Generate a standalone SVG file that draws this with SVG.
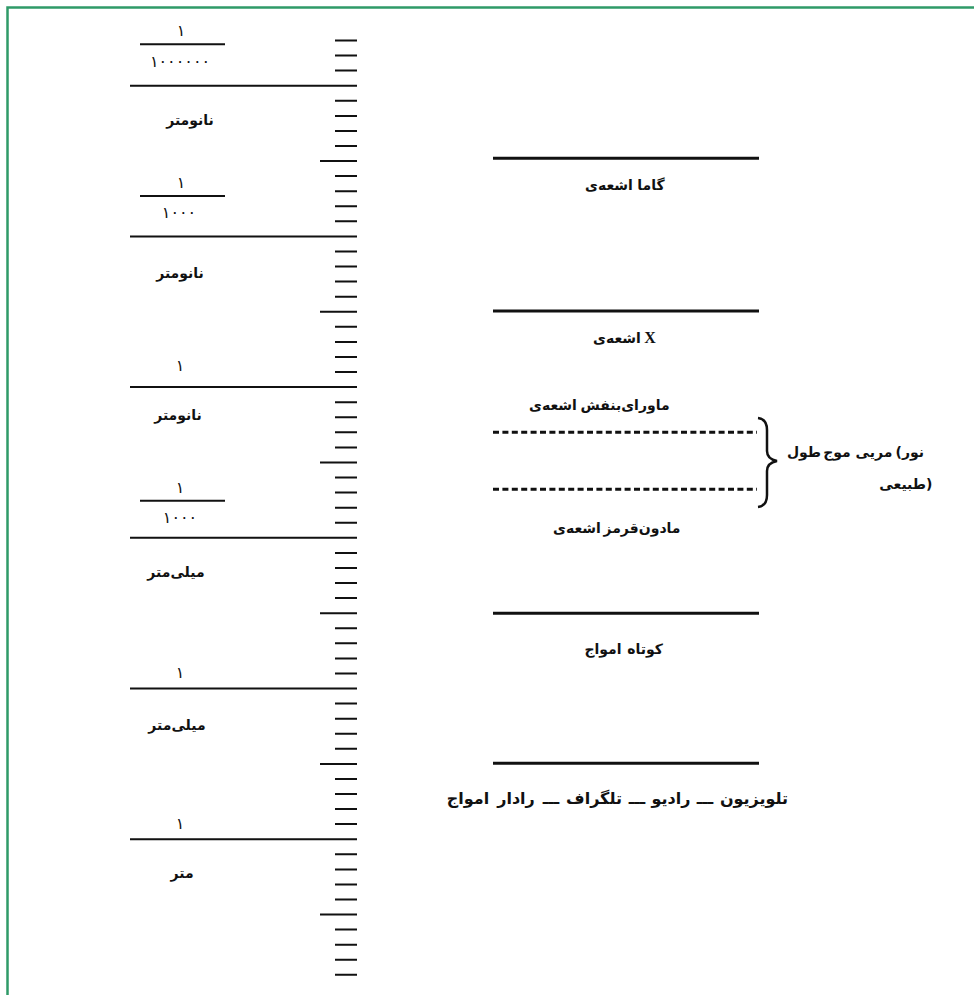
<svg xmlns="http://www.w3.org/2000/svg" width="974" height="995" viewBox="0 0 974 995">
<style>
.t{font-family:"DejaVu Sans","Noto Sans",sans-serif;font-size:14px;font-weight:bold;fill:#111;text-anchor:middle}
.r{font-size:16px}
.x{font-family:"Liberation Serif",serif;font-size:16px;font-weight:bold;fill:#111;text-anchor:middle}
.n{font-family:"DejaVu Sans","Noto Sans",sans-serif;font-size:16px;fill:#111;text-anchor:middle}
.tick{stroke:#111;stroke-width:2;fill:none}
.band{stroke:#111;stroke-width:3;fill:none}
.dot{stroke:#111;stroke-width:3;fill:none;stroke-dasharray:6 3.4}
</style>
<rect x="0" y="0" width="974" height="995" fill="#fff"/>
<rect x="7.5" y="7.5" width="980" height="1000" fill="none" stroke="#2f9a68" stroke-width="2.5"/>
<g id="scale">
<path class="tick" d="M335 40.5h22M335 55.6h22M335 70.6h22M335 100.8h22M335 115.9h22M335 130.9h22M335 146h22M335 176.1h22M335 191.2h22M335 206.3h22M335 221.3h22M335 251.5h22M335 266.6h22M335 281.6h22M335 296.7h22M335 326.8h22M335 341.9h22M335 357h22M335 372h22M335 402.2h22M335 417.3h22M335 432.3h22M335 447.4h22M335 477.5h22M335 492.6h22M335 507.7h22M335 522.7h22M335 552.9h22M335 568h22M335 583h22M335 598.1h22M335 628.2h22M335 643.3h22M335 658.4h22M335 673.4h22M335 703.6h22M335 718.7h22M335 733.7h22M335 748.8h22M335 778.9h22M335 794h22M335 809.1h22M335 824.1h22M335 854.3h22M335 869.4h22M335 884.4h22M335 899.5h22M335 929.6h22M335 944.7h22M335 959.8h22M335 974.8h22"/>
<path class="tick" d="M320 161.1h37M320 311.8h37M320 462.5h37M320 613.2h37M320 763.9h37M320 914.6h37"/>
<path class="tick" d="M130 85.7H357M130 236.4H357M130 387.1H357M130 537.8H357M130 688.5H357M130 839.2H357"/>
</g>
<g id="label-1e-6">
<text class="n" x="181" y="36">۱</text>
<path class="tick" d="M140 44.3H225"/>
<text class="n" x="180" y="67" fill="#555">۱۰۰۰۰۰۰</text>
</g>
<text id="unit-1" class="t" x="190" y="125">نانومتر</text>
<g id="label-1e-3">
<text class="n" x="181" y="188">۱</text>
<path class="tick" d="M140 196H225"/>
<text class="n" x="179" y="218" fill="#555">۱۰۰۰</text>
</g>
<text id="unit-2" class="t" x="180" y="278">نانومتر</text>
<text id="label-1a" class="n" x="180" y="371">۱</text>
<text id="unit-3" class="t" x="178" y="420">نانومتر</text>
<g id="label-1e-3b">
<text class="n" x="180" y="493">۱</text>
<path class="tick" d="M140 500.7H225"/>
<text class="n" x="180" y="523" fill="#555">۱۰۰۰</text>
</g>
<text id="unit-4" class="t" x="176" y="577">میلی‌متر</text>
<text id="label-1b" class="n" x="180" y="678">۱</text>
<text id="unit-5" class="t" x="177" y="730">میلی‌متر</text>
<text id="label-1c" class="n" x="180" y="829">۱</text>
<text id="unit-6" class="t" x="182" y="878">متر</text>
<g id="gamma">
<path class="band" d="M493 158.3H759"/>
<text class="t" x="609" y="190">اشعه‌ی</text>
<text class="t" x="651" y="190">گاما</text>
</g>
<g id="xray">
<path class="band" d="M493 311H759"/>
<text class="t" x="617" y="343">اشعه‌ی</text>
<text class="x" x="650" y="343">X</text>
</g>
<g id="ultraviolet">
<text class="t" x="553" y="410">اشعه‌ی</text>
<text class="t" x="625" y="410">ماورای‌بنفش</text>
<path class="dot" d="M493 432.3H757"/>
</g>
<g id="infrared">
<path class="dot" d="M493 489.3H757"/>
<text class="t" x="577" y="533">اشعه‌ی</text>
<text class="t" x="642" y="533">مادون‌قرمز</text>
</g>
<g id="visible-light">
<path d="M758 418Q767 419 767 430V451Q767 459 777 461Q767 463 767 471V495Q767 506 758 507" fill="none" stroke="#111" stroke-width="2.5"/>
<text class="t" x="804" y="457">طول</text>
<text class="t" x="837" y="457">موج</text>
<text class="t" x="874" y="457">مریی</text>
<text class="t" x="902" y="457" style="text-anchor:end">(</text>
<text class="t" x="902" y="457" style="text-anchor:start">نور</text>
<text class="t" x="926" y="489" style="text-anchor:end">طبیعی</text>
<text class="t" x="926" y="489" style="text-anchor:start">)</text>
</g>
<g id="short-waves">
<path class="band" d="M493 613.3H759"/>
<text class="t" x="603" y="654">امواج</text>
<text class="t" x="645" y="654">کوتاه</text>
</g>
<g id="radio">
<path class="band" d="M493 763.3H759"/>
<text class="t r" x="468" y="804">امواج</text>
<text class="t r" x="516" y="804">رادار</text>
<text class="t r" x="551" y="804">ـــ</text>
<text class="t r" x="594" y="804">تلگراف</text>
<text class="t r" x="637" y="804">ـــ</text>
<text class="t r" x="671" y="804">رادیو</text>
<text class="t r" x="705" y="804">ـــ</text>
<text class="t r" x="754" y="804">تلویزیون</text>
</g>
</svg>
